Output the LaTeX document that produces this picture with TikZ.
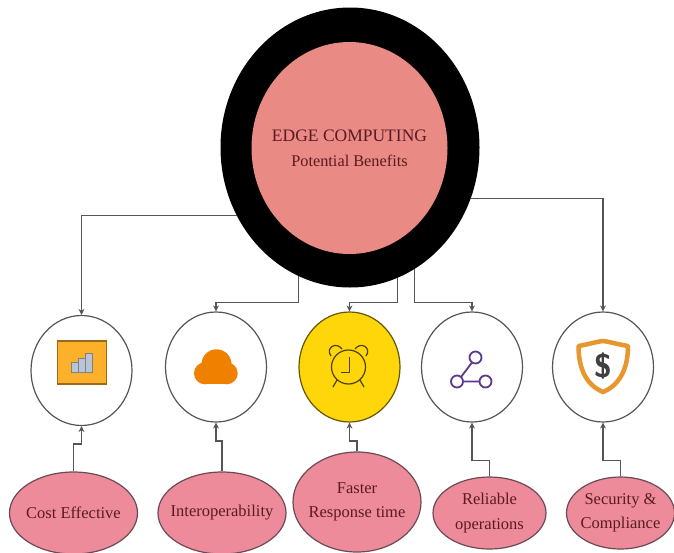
\documentclass[tikz,border=0pt]{standalone}
\usepackage{fontspec}
\setmainfont{Liberation Serif}
\usetikzlibrary{arrows.meta,%
                shapes.geometric}
\definecolor{hubpink}{HTML}{EA8A85}
\definecolor{leafpink}{HTML}{EE8B9A}
\definecolor{leafline}{HTML}{6A4A55}
\definecolor{inkred}{HTML}{5A1A22}
\definecolor{wireg}{HTML}{555555}
\definecolor{alarmy}{HTML}{FFD60A}
\definecolor{iconor}{HTML}{F08000}
\definecolor{tileor}{HTML}{FDB02A}
\definecolor{shieldor}{HTML}{E8962E}
\definecolor{graphpu}{HTML}{5B3A8C}
\definecolor{barblue}{HTML}{B8C4D8}
\tikzset{
	HubStyle/.style = {shape=ellipse,inner sep=0pt,fill=black,minimum width=259pt,minimum height=280pt},
	CoreStyle/.style = {shape=ellipse,inner sep=0pt,fill=hubpink,minimum width=196pt,minimum height=212pt},
	IconStyle/.style = {shape=ellipse,inner sep=0pt,draw=wireg,line width=1.2pt,fill=white,minimum width=101pt,minimum height=110pt},
	LeafStyle/.style = {shape=ellipse,inner sep=0pt,draw=leafline,line width=1.2pt,fill=leafpink},
	TextStyle/.style = {inner sep=0pt,align=center,text=inkred,font=\fontsize{16.5}{24.5}\selectfont},
	EdgeStyle/.style = {-{Stealth[length=6pt,width=6pt]},draw=wireg,line width=1.1pt},
}
\begin{document}
\begin{tikzpicture}[x=1pt,y=-1pt]
	\useasboundingbox (0,0) rectangle (674,552);
	\node[HubStyle] (hub) at (350,147.5) {};
	\node[CoreStyle] (core) at (349.5,148) {};
	\node[IconStyle] (cost) at (81.5,370.5) {};
	\node[IconStyle] (cloud) at (216,367) {};
	\node[IconStyle,fill=alarmy,draw=black!60!alarmy] (alarm) at (349.5,367) {};
	\node[IconStyle] (graph) at (472,367) {};
	\node[IconStyle] (guard) at (603,367) {};
	\node[LeafStyle,minimum width=128pt,minimum height=82pt] (costl) at (73.5,513) {};
	\node[LeafStyle,minimum width=128pt,minimum height=82pt] (cloudl) at (222,513) {};
	\node[LeafStyle,minimum width=128pt,minimum height=100pt] (alarml) at (357,502) {};
	\node[LeafStyle,minimum width=113pt,minimum height=72pt] (graphl) at (489.5,513) {};
	\node[LeafStyle,minimum width=108pt,minimum height=72pt] (guardl) at (620.5,513) {};
	% texts
	\node[TextStyle,font=\fontsize{17.5}{25}\selectfont] (coret) at (349.5,148) {EDGE COMPUTING\\{\fontsize{16.3}{25}\selectfont Potential Benefits}};
	\node[TextStyle] (costt) at (costl) {Cost Effective};
	\node[TextStyle] (cloudt) at (cloudl) {Interoperability};
	\node[TextStyle] (alarmt) at (alarml) {Faster\\Response time};
	\node[TextStyle] (grapht) at (graphl) {Reliable\\operations};
	\node[TextStyle] (guardt) at (guardl) {Security \&\\Compliance};
	% hub to icons
	\draw[EdgeStyle] (hub.211) -| (cost.north);
	\draw[EdgeStyle] (hub.-23) -| (guard.north);
	\draw[EdgeStyle] (hub.248) |- (216,302.5) -- (cloud.north);
	\draw[EdgeStyle] (hub.-70) |- (349.5,302.5) -- (alarm.north);
	\draw[EdgeStyle] (hub.-62) |- (472,302.5) -- (graph.north);
	% labels to icons
	\draw[EdgeStyle] (costl.north) |- (81.5,444) -- (cost.south);
	\draw[EdgeStyle] (cloudl.north) |- (216,441) -- (cloud.south);
	\draw[EdgeStyle] (alarml.north) |- (349.5,441) -- (alarm.south);
	\draw[EdgeStyle] (graphl.north) |- (472,460.5) -- (graph.south);
	\draw[EdgeStyle] (guardl.north) |- (603,460.5) -- (guard.south);
	% icons
	\draw[draw=black!40!tileor,line width=1.2pt,fill=tileor] (57.5,341) rectangle (106.5,384);
	\foreach \xa/\ya in {71/362,78/358,85/353}
		\draw[draw=gray,line width=0.8pt,fill=barblue] (\xa,\ya) rectangle (\xa+7,372);
	\fill[iconor] (205,365) rectangle (227,384.3);
	\fill[iconor] (216.5,364.3) circle (15);
	\fill[iconor] (205,373.3) circle (11);
	\fill[iconor] (226.7,373.3) circle (11);
	\begin{scope}[line width=1.2pt]
		\draw[draw=black!70!alarmy] (348.5,367) circle (17);
		\draw[draw=black!70!alarmy] (349.5,356.5) -- (349.5,372.5) -- (340.5,372.5);
		\draw[draw=black!70!alarmy] (331,356) .. controls (325,348) and (336,341) .. (342,349);
		\draw[draw=black!70!alarmy] (366,356) .. controls (372,348) and (361,341) .. (355,349);
		\draw[draw=black!70!alarmy] (337,380) -- (333,387) (360,380) -- (364,387);
	\end{scope}
	\begin{scope}[line width=1.8pt]
		\draw[draw=graphpu] (475.5,357.5) circle (6);
		\draw[draw=graphpu] (457,381.5) circle (6);
		\draw[draw=graphpu] (485.5,381.5) circle (6);
		\draw[draw=graphpu] (472,362.5) -- (461,377) (463,381.5) -- (479.5,381.5);
	\end{scope}
	\draw[draw=shieldor,line width=4.5pt,line join=round] (578.5,346) .. controls (590,344) and (595,342) .. (603,341) .. controls (611,342) and (616,344) .. (628,346) .. controls (628,365) and (622,384) .. (603,392) .. controls (584,384) and (578.5,365) .. (578.5,346) -- cycle;
	\node[inner sep=0pt,text=black!75,font=\fontsize{33}{33}\selectfont\sffamily\bfseries] (dollar) at (603,366) {\$};
\end{tikzpicture}
\end{document}
